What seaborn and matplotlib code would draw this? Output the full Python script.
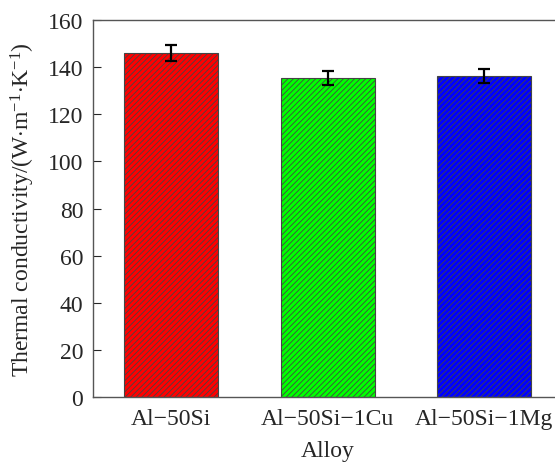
import pandas as pd
import matplotlib
matplotlib.use("Agg")
import matplotlib.pyplot as plt
import seaborn as sns

# data
alloys = ["Al\u221250Si", "Al\u221250Si\u22121Cu", "Al\u221250Si\u22121Mg"]
conductivity = [146.0, 135.5, 136.3]
errors = [3.3, 3.0, 3.0]
colors = ["#ff0000", "#00ff00", "#0000ff"]

df = pd.DataFrame({"Alloy": alloys, "k": conductivity})

sns.set_theme(style="ticks")
plt.rcParams["font.family"] = ["Liberation Serif", "DejaVu Serif"]
plt.rcParams["mathtext.fontset"] = "custom"
plt.rcParams["mathtext.rm"] = "Liberation Serif"
plt.rcParams["mathtext.it"] = "Liberation Serif:italic"
plt.rcParams["hatch.linewidth"] = 0.6

fig = plt.figure(figsize=(5.55, 4.64), dpi=100)
ax = fig.add_axes([0.1676, 0.1422, 0.8459, 0.8125])

sns.barplot(data=df, x="Alloy", y="k", hue="Alloy", palette=colors,
            saturation=1, width=0.6, errorbar=None, legend=False, ax=ax,
            edgecolor="#444444", linewidth=0.8)
for bar in ax.patches:
    bar.set_hatch("//////")

ax.errorbar(range(len(alloys)), conductivity, yerr=errors, fmt="none",
            ecolor="black", elinewidth=1.6, capsize=4, capthick=1.6)

ax.set_xlim(-0.5, 2.5)
ax.set_ylim(0, 160)
ax.set_yticks(range(0, 161, 20))
ax.tick_params(axis="y", direction="in", length=6, width=0.8, labelsize=17, pad=7)
ax.tick_params(axis="x", length=0, labelsize=17, pad=8)
ax.set_xlabel("Alloy", fontsize=17, labelpad=8)
ax.set_ylabel(r"Thermal conductivity/(W$\cdot$m$^{-1}$$\cdot$K$^{-1}$)", fontsize=17, labelpad=8)

for side in ["left", "bottom", "top"]:
    ax.spines[side].set_color("#555555")
    ax.spines[side].set_linewidth(1.0)
ax.spines["right"].set_visible(False)

fig.savefig("out.png", dpi=100)
